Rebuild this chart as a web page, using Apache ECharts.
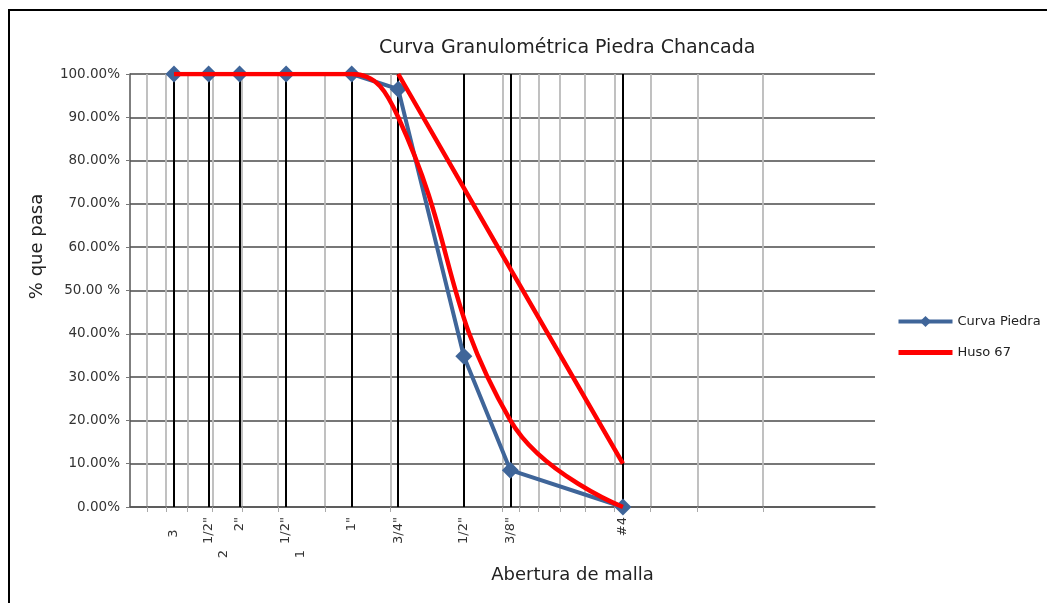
<!DOCTYPE html>
<html>
<head>
<meta charset="utf-8">
<script src="https://cdn.jsdelivr.net/npm/echarts@6/dist/echarts.min.js"></script>
<style>
  html, body { margin: 0; padding: 0; background: #fff; }
  #chart { width: 1047px; height: 603px; }
</style>
</head>
<body>
<div id="chart"></div>
<script>
// abertura de malla en mm (posiciones)
const sieveSizes = [76.2, 61.5, 50.8, 38.1, 25.4, 19.05, 12.7, 9.525, 4.75];
const sieveLabels = ['3   ', '\n1/2"\n2        ', '2"', '\n1/2"\n1        ', '1"', '3/4"', '1/2"', '3/8"', '#4'];
const curvaPiedra = [100, 100, 100, 100, 100, 96.5, 34.8, 8.5, 0];

// huso 67, limite inferior y superior
const husoInfSizes = [76.2, 61.5, 50.8, 38.1, 25.4, 19.05, 9.525, 4.75];
const husoInf = [100, 100, 100, 100, 100, 90, 20, 0];
const husoSupSizes = [19.05, 9.525, 4.75];
const husoSup = [100, 55, 10];

const minorGrid = [90, 80, 70, 60, 50, 40, 30, 20, 10, 9, 8, 7, 6, 5, 4, 3, 2];
const yTickLabels = ['0.00%', '10.00%', '20.00%', '30.00%', '40.00%', '50.00 %', '60.00%', '70.00%', '80.00%', '90.00%', '100.00%'];

const zip = (xs, ys) => xs.map((x, i) => [x, ys[i]]);

const chart = echarts.init(document.getElementById('chart'));
chart.setOption({
  backgroundColor: '#fff',
  animation: false,
  textStyle: { fontFamily: 'DejaVu Sans, sans-serif' },
  title: {
    text: 'Curva Granulométrica Piedra Chancada',
    left: 374,
    top: 34,
    textStyle: { fontSize: 19, fontWeight: 'normal', color: '#222' }
  },
  graphic: [{
    type: 'rect',
    shape: { x: 9, y: 10, width: 1100, height: 700 },
    style: { fill: 'none', stroke: '#000', lineWidth: 2 },
    silent: true
  }],
  legend: {
    orient: 'vertical',
    left: 891,
    top: 310,
    itemWidth: 54,
    itemHeight: 14,
    itemGap: 18,
    textStyle: { fontSize: 13, color: '#222' },
    data: [
      { name: 'Curva Piedra', lineStyle: { width: 4 } },
      { name: 'Huso 67', lineStyle: { width: 5 }, itemStyle: { opacity: 0 } }
    ]
  },
  grid: { left: 130, right: 172, top: 74, bottom: 96 },
  xAxis: {
    type: 'log',
    logBase: 10,
    min: 1,
    max: 100,
    inverse: true,
    name: 'Abertura de malla',
    nameLocation: 'middle',
    nameGap: 53,
    nameTextStyle: { fontSize: 18, color: '#222', padding: [0, 0, 0, 140] },
    axisLine: { show: true, lineStyle: { color: '#555', width: 1.5 } },
    axisTick: { show: true, customValues: minorGrid, length: 5, lineStyle: { color: '#aaa' } },
    splitLine: { show: true, lineStyle: { color: '#bababa', width: 1.8 } },
    axisLabel: {
      customValues: sieveSizes,
      hideOverlap: false,
      showMinLabel: true,
      showMaxLabel: true,
      rotate: 90,
      margin: 10,
      fontSize: 13,
      lineHeight: 15,
      color: '#333',
      formatter: v => {
        const i = sieveSizes.findIndex(s => Math.abs(s - v) < 1e-6);
        return i >= 0 ? sieveLabels[i] : '';
      }
    }
  },
  yAxis: {
    type: 'value',
    min: 0,
    max: 100,
    interval: 10,
    name: '% que pasa',
    nameLocation: 'middle',
    nameGap: 84,
    nameTextStyle: { fontSize: 18, color: '#222', padding: [0, 0, 0, 88] },
    axisLine: { show: true, lineStyle: { color: '#555', width: 1.5 } },
    axisTick: { show: true, length: 4, lineStyle: { color: '#777' } },
    splitLine: { lineStyle: { color: '#777', width: 1.8 } },
    axisLabel: {
      fontSize: 13.5,
      color: '#333',
      margin: 10,
      formatter: v => yTickLabels[Math.round(v / 10)]
    }
  },
  series: [
    {
      name: 'Curva Piedra',
      type: 'line',
      z: 3,
      data: zip(sieveSizes, curvaPiedra),
      symbol: 'diamond',
      symbolSize: 17,
      itemStyle: { color: '#3f6599' },
      lineStyle: { color: '#3f6599', width: 4 },
      markLine: {
        silent: true,
        z: 1,
        symbol: 'none',
        label: { show: false },
        lineStyle: { color: '#000', width: 2, type: 'solid' },
        data: sieveSizes.map(s => ({ xAxis: s }))
      }
    },
    {
      name: 'Huso 67',
      type: 'line',
      z: 4,
      data: zip(husoInfSizes, husoInf),
      smooth: 0.45,
      symbol: 'none',
      itemStyle: { color: '#ff0000' },
      lineStyle: { color: '#ff0000', width: 4.5 }
    },
    {
      name: 'Huso 67',
      type: 'line',
      z: 4,
      data: zip(husoSupSizes, husoSup),
      smooth: 0.3,
      symbol: 'none',
      itemStyle: { color: '#ff0000' },
      lineStyle: { color: '#ff0000', width: 4.5 }
    }
  ]
});
</script>
</body>
</html>
